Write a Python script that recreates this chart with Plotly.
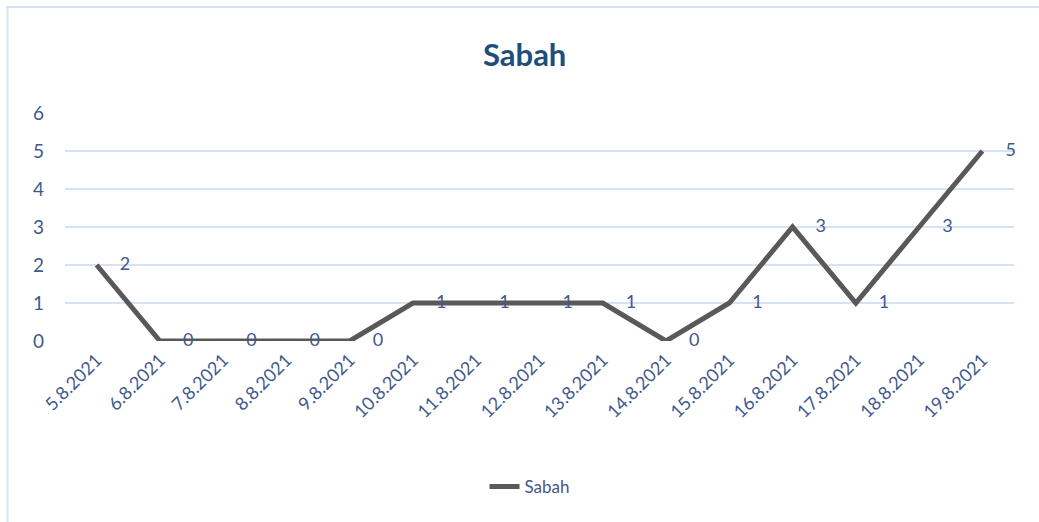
import plotly.graph_objects as go

dates = ["5.8.2021", "6.8.2021", "7.8.2021", "8.8.2021", "9.8.2021", "10.8.2021",
         "11.8.2021", "12.8.2021", "13.8.2021", "14.8.2021", "15.8.2021", "16.8.2021",
         "17.8.2021", "18.8.2021", "19.8.2021"]
sabah = [2, 0, 0, 0, 0, 1, 1, 1, 1, 0, 1, 3, 1, 3, 5]
y_ticks = [0, 1, 2, 3, 4, 5, 6]

FONT = "Lato"
TXT = "#41598A"

fig = go.Figure()
fig.add_trace(go.Scatter(
    x=dates, y=sabah, name="Sabah", mode="lines+text",
    line=dict(color="#595959", width=5),
    text=[str(v) for v in sabah], texttemplate="     %{text}",
    textposition="middle right", cliponaxis=False,
    textfont=dict(family=FONT, size=18, color=TXT),
))

fig.update_layout(
    width=1039, height=522,
    margin=dict(l=65, r=25, t=113, b=181),
    paper_bgcolor="white", plot_bgcolor="white",
    title=dict(text="<b>Sabah</b>", x=0.505, xanchor="center", y=0.895, yanchor="middle",
               font=dict(family=FONT, size=31, color="#1F4E79")),
    showlegend=True,
    legend=dict(orientation="h", x=0.49, xanchor="center", y=-0.64, yanchor="middle",
                font=dict(family=FONT, size=17, color=TXT)),
    xaxis=dict(type="category", tickangle=-45, showgrid=False, showline=False,
               ticks="", ticklabelstandoff=4,
               tickfont=dict(family=FONT, size=18, color=TXT),
               range=[-0.5, len(dates) - 0.5]),
    yaxis=dict(range=[0, 6], tickvals=y_ticks, showgrid=True, gridcolor="#D6E3F3",
               gridwidth=2, zeroline=False, ticks="", ticklabelstandoff=20,
               tickfont=dict(family=FONT, size=19, color=TXT)),
    shapes=[
        dict(type="line", xref="paper", yref="paper", x0=-0.062, x1=1.05, y0=1.465, y1=1.465,
             line=dict(color="#D6E3F3", width=2)),
        dict(type="line", xref="paper", yref="paper", x0=-0.0605, x1=-0.0605, y0=1.465, y1=-0.8,
             line=dict(color="#D6E3F3", width=2)),
    ],
)

fig.write_html("out.html", post_script="document.body.style.margin='0';",
               config={"displayModeBar": False})
